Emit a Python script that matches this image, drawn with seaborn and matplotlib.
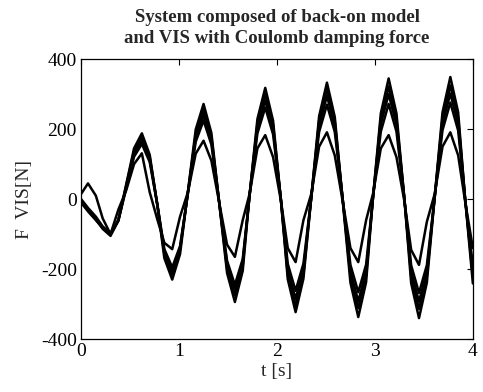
import numpy as np
import pandas as pd
import seaborn as sns
import matplotlib
matplotlib.use("Agg")
import matplotlib.pyplot as plt

# --- DATA ---
t_s = [0.00, 0.07, 0.15, 0.22,
       0.30, 0.38, 0.46, 0.54, 0.62, 0.70, 0.78, 0.85, 0.93, 1.01, 1.09, 1.17,
       1.25, 1.33, 1.41, 1.49, 1.57, 1.65, 1.72, 1.80, 1.88, 1.96, 2.04, 2.11,
       2.19, 2.27, 2.35, 2.43, 2.51, 2.59, 2.67, 2.75, 2.83, 2.91, 2.98, 3.06,
       3.14, 3.22, 3.30, 3.37, 3.45, 3.53, 3.61, 3.69, 3.77, 3.85, 3.92, 4.00]

force_a = [-5, -30, -58, -85,
           -105, -62, 42, 145, 188, 127, -21, -169, -230, -157, 21, 199,
           272, 189, -11, -211, -294, -205, 12, 229, 318, 224, -3, -229,
           -323, -227, 5, 237, 333, 235, -2, -239, -337, -237, 4, 245,
           345, 245, 3, -240, -340, -239, 5, 248, 349, 248, 4, -241]

force_b = [-8, -32, -58, -82,
           -100, -59, 39, 137, 178, 121, -19, -158, -215, -146, 20, 186,
           255, 178, -10, -198, -275, -191, 13, 216, 300, 212, -3, -217,
           -305, -214, 5, 224, 315, 223, 2, -220, -312, -219, 5, 229,
           322, 229, 4, -221, -314, -221, 6, 232, 325, 232, 5, -222]

force_c = [-10, -35, -60, -82,
           -100, -61, 34, 129, 168, 114, -19, -151, -205, -140, 18, 175,
           240, 167, -9, -185, -258, -179, 12, 203, 282, 199, -2, -202,
           -285, -200, 5, 210, 295, 209, 2, -206, -292, -206, 4, 214,
           300, 213, 4, -206, -293, -206, 5, 215, 302, 215, 4, -208]

force_d = [0, -25, -50, -78,
           -98, -61, 30, 121, 158, 106, -19, -143, -195, -134, 15, 164,
           225, 156, -10, -176, -245, -171, 9, 188, 262, 185, 0, -185,
           -262, -184, 4, 192, 270, 192, 2, -188, -266, -187, 3, 193,
           272, 193, 2, -189, -268, -189, 4, 197, 276, 196, 3, -190]

force_e = [15, 45, 10, -55,
           -100, -30, 25, 100, 131, 20, -60, -125, -143, -50, 20, 130,
           167, 110, -10, -130, -165, -60, 15, 145, 183, 120, -5, -140,
           -180, -60, 15, 150, 191, 125, -5, -140, -180, -60, 15, 145,
           183, 120, -5, -145, -188, -65, 15, 150, 191, 125, -5, -140]

series = {"a": force_a, "b": force_b, "c": force_c, "d": force_d, "e": force_e}

x_ticks = [0, 1, 2, 3, 4]
y_ticks = [-400, -200, 0, 200, 400]

# --- BUILD LONG TABLE ---
frames = []
for name, vals in series.items():
    frames.append(pd.DataFrame({"t": t_s, "F": vals, "line": name}))
df = pd.concat(frames, ignore_index=True)

sns.set_theme(style="white")
plt.rcParams['font.family'] = ['Liberation Serif', 'DejaVu Serif']
plt.rcParams['axes.unicode_minus'] = False

fig = plt.figure(figsize=(4.83, 3.92), dpi=100)
ax = fig.add_axes([0.168, 0.135, 0.811, 0.714])

sns.lineplot(data=df, x="t", y="F", hue="line", palette=["black"] * 5,
             estimator=None, sort=False, legend=False, linewidth=1.8, ax=ax)

ax.set_xlim(0, 4)
ax.set_ylim(-400, 400)
ax.set_xticks(x_ticks)
ax.set_yticks(y_ticks)
ax.tick_params(direction="in", length=4, width=0.8, top=True, right=True,
               labelsize=14, colors="black", pad=3)
for sp in ax.spines.values():
    sp.set_color("black")
    sp.set_linewidth(0.9)

ax.set_title("System composed of back-on model\nand VIS with Coulomb damping force",
             fontsize=13.5, fontweight="bold", pad=12, linespacing=1.25)
ax.set_xlabel("t [s]", fontsize=14, labelpad=2)
ax.set_ylabel("F  VIS[N]", fontsize=14, labelpad=6)

fig.savefig("out.png", dpi=100, facecolor="white")
